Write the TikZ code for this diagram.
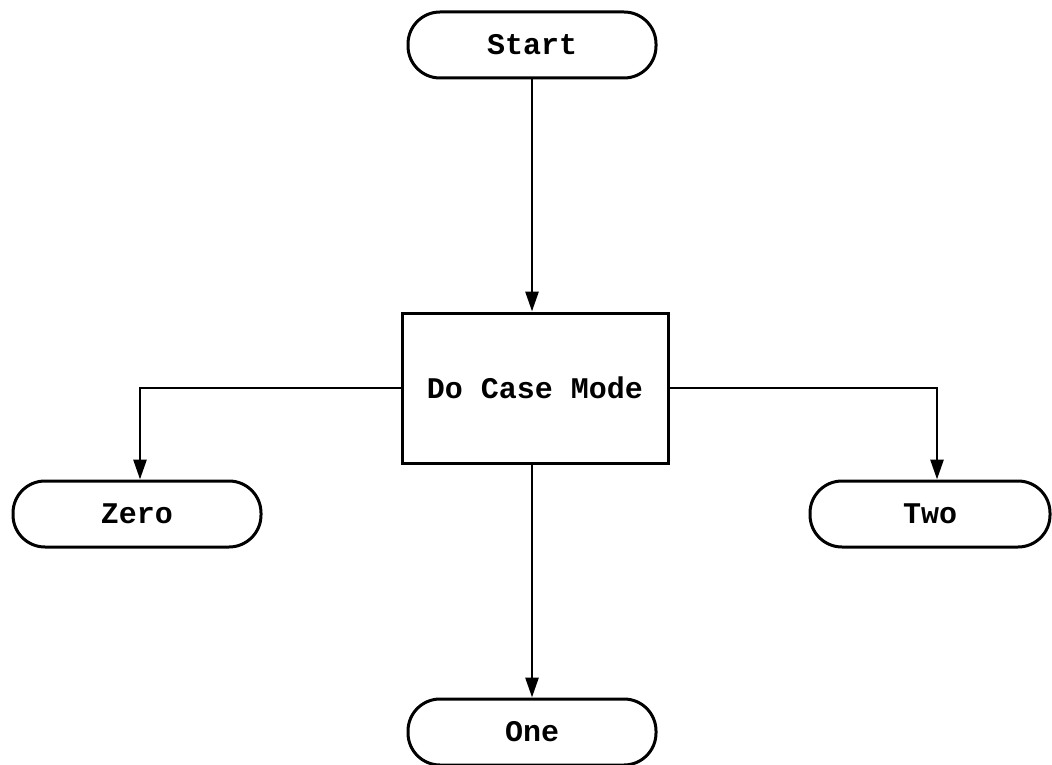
\documentclass[tikz,border=0pt]{standalone}
\usepackage{fontspec}
\setmonofont{Liberation Mono}
\usetikzlibrary{arrows.meta}
\tikzset{
  term/.style={draw=black, line width=1.5pt, rounded corners=16pt, minimum width=124pt,
               minimum height=33pt, inner sep=0pt, font=\ttfamily\bfseries\fontsize{15}{18}\selectfont},
  proc/.style={draw=black, line width=1.5pt, minimum width=133pt, minimum height=75pt,
               inner sep=0pt, font=\ttfamily\bfseries\fontsize{15}{18}\selectfont},
  fl/.style={draw=black, line width=1.4pt, -{Triangle[length=10pt, width=6.5pt]}},  % flow line
}
\begin{document}
\begin{tikzpicture}[x=0.5pt, y=-0.5pt]
  \useasboundingbox (0,0) rectangle (1052,764);
  \node[term] (start) at (532,45)  {Start};
  \node[proc] (mode)  at (535,388) {Do Case Mode};
  \node[term] (zero)  at (137,514) {Zero};
  \node[term, minimum width=120pt] (two) at (930,514) {Two};
  \node[term] (one)   at (532,732) {One};
  \draw[fl] (start.south) -- (start.south |- mode.north);
  \draw[fl] (mode.west) -| ([xshift=1.5pt]zero.north);
  \draw[fl] (mode.east) -| ([xshift=3.5pt]two.north);
  \draw[fl] (mode.south -| one.north) -- (one.north);
\end{tikzpicture}
\end{document}
